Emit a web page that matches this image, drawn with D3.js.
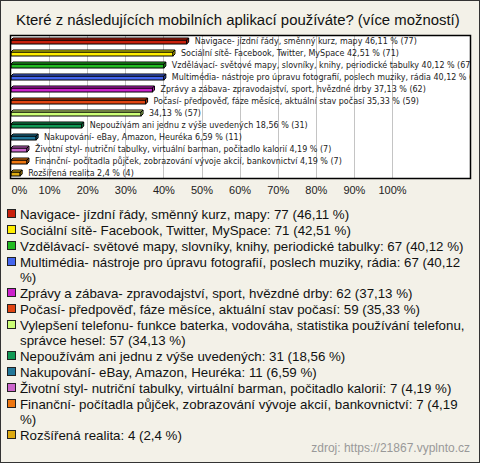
<!DOCTYPE html>
<html>
<head>
<meta charset="utf-8">
<script src="https://cdn.jsdelivr.net/npm/d3@7"></script>
<style>
  html, body { margin: 0; padding: 0; background: #fff; }
  svg { display: block; }
</style>
</head>
<body>
<svg id="chart" width="480" height="463"></svg>
<script>
const title = "Které z následujících mobilních aplikací používáte? (více možností)";
const categories = [
  "Navigace- jízdní řády, směnný kurz, mapy",
  "Sociální sítě- Facebook, Twitter, MySpace",
  "Vzdělávací- světové mapy, slovníky, knihy, periodické tabulky",
  "Multimédia- nástroje pro úpravu fotografií, poslech muziky, rádia",
  "Zprávy a zábava- zpravodajství, sport, hvězdné drby",
  "Počasí- předpověď, fáze měsíce, aktuální stav počasí",
  "Vylepšení telefonu- funkce baterka, vodováha, statistika používání telefonu, správce hesel",
  "Nepoužívám ani jednu z výše uvedených",
  "Nakupování- eBay, Amazon, Heuréka",
  "Životní styl- nutriční tabulky, virtuální barman, počitadlo kalorií",
  "Finanční- počítadla půjček, zobrazování vývoje akcií, bankovnictví",
  "Rozšířená realita"
];
const counts = [77, 71, 67, 67, 62, 59, 57, 31, 11, 7, 7, 4];
const percents = [46.11, 42.51, 40.12, 40.12, 37.13, 35.33, 34.13, 18.56, 6.59, 4.19, 4.19, 2.4];
// bar label names (the long 7th label is omitted on the bar)
const barNames = [
  "Navigace- jízdní řády, směnný kurz, mapy",
  "Sociální sítě- Facebook, Twitter, MySpace",
  "Vzdělávací- světové mapy, slovníky, knihy, periodické tabulky",
  "Multimédia- nástroje pro úpravu fotografií, poslech muziky, rádia",
  "Zprávy a zábava- zpravodajství, sport, hvězdné drby",
  "Počasí- předpověď, fáze měsíce, aktuální stav počasí",
  "",
  "Nepoužívám ani jednu z výše uvedených",
  "Nakupování- eBay, Amazon, Heuréka",
  "Životní styl- nutriční tabulky, virtuální barman, počitadlo kalorií",
  "Finanční- počítadla půjček, zobrazování vývoje akcií, bankovnictví",
  "Rozšířená realita"
];
const colors = ["#c8200c", "#ffee00", "#22bb22", "#4466ee", "#cc22cc", "#e04412",
                "#ccff77", "#119955", "#227799", "#cc66cc", "#ee7711", "#ddaa11"];
const tickValues = [0, 10, 20, 30, 40, 50, 60, 70, 80, 90, 100];
const tickLabels = ["0%", "10%", "20%", "30%", "40%", "50%", "60%", "70%", "80%", "90%", "100%"];
const source = "zdroj: https://21867.vyplnto.cz";

const fmt = v => String(v).replace(".", ",");

const svg = d3.select("#chart");
const W = 480, H = 463;

// background + frame
svg.append("rect").attr("x", 0.5).attr("y", 0.5).attr("width", W - 1).attr("height", H - 1)
  .attr("fill", "#f3f1e8").attr("stroke", "#333").attr("stroke-width", 1);

// title
svg.append("text").attr("x", 16).attr("y", 25)
  .attr("font-family", "Liberation Sans, Arial, sans-serif").attr("font-size", 14.9)
  .attr("fill", "#111").text(title);

// plot area
const plot = { left: 10, top: 35, right: 471, bottom: 179 };
const x = d3.scaleLinear().domain([0, 100]).range([11, 392]);
const y = d3.scaleBand().domain(d3.range(categories.length)).range([plot.top, plot.bottom]);

svg.append("defs").append("clipPath").attr("id", "plotClip").append("rect")
  .attr("x", plot.left).attr("y", plot.top)
  .attr("width", plot.right - plot.left).attr("height", plot.bottom - plot.top);

svg.append("rect").attr("x", plot.left).attr("y", plot.top)
  .attr("width", plot.right - plot.left).attr("height", plot.bottom - plot.top)
  .attr("fill", "#fff");

// gridlines
svg.append("g").selectAll("line").data(tickValues.filter(t => t > 0)).join("line")
  .attr("x1", d => Math.round(x(d)) + 0.5).attr("x2", d => Math.round(x(d)) + 0.5)
  .attr("y1", plot.top).attr("y2", plot.bottom)
  .attr("stroke", "#c4c4c4").attr("stroke-width", 1);

// 3D bars
const dx = 2, dy = 2;
const bars = svg.append("g").attr("clip-path", "url(#plotClip)").selectAll("g").data(percents).join("g");
bars.each(function(p, i) {
  const g = d3.select(this);
  const c = y(i) + y.bandwidth() / 2;
  const x0 = x(0), x1 = x(p);
  const yTop = c - 1, yBot = c + 3;
  const col = colors[i];
  g.append("rect").attr("x", x0).attr("y", yTop).attr("width", x1 - x0).attr("height", yBot - yTop)
    .attr("fill", col).attr("stroke", "#000").attr("stroke-width", 1);
  g.append("path").attr("d", `M${x0},${yTop} L${x0 + dx},${yTop - dy} L${x1 + dx},${yTop - dy} L${x1},${yTop} Z`)
    .attr("fill", d3.color(col).brighter(0.2)).attr("stroke", "#000").attr("stroke-width", 1);
  g.append("path").attr("d", `M${x1},${yTop} L${x1 + dx},${yTop - dy} L${x1 + dx},${yBot - dy} L${x1},${yBot} Z`)
    .attr("fill", d3.color(col).darker(0.4)).attr("stroke", "#000").attr("stroke-width", 1);
  const name = barNames[i];
  const lbl = (name ? name + " " : "") + fmt(p) + " % (" + counts[i] + ")";
  g.append("text").attr("x", x1 + 8).attr("y", c + 2.5)
    .attr("font-family", "Liberation Sans Narrow, Arial Narrow, DejaVu Sans Condensed, sans-serif")
    .attr("font-size", 8.9).attr("fill", "#222").text(lbl);
});

// plot border
svg.append("rect").attr("x", plot.left + 0.5).attr("y", plot.top + 0.5)
  .attr("width", plot.right - plot.left - 1).attr("height", plot.bottom - plot.top - 1)
  .attr("fill", "none").attr("stroke", "#000").attr("stroke-width", 1.5);

// x axis labels
const axis = d3.axisBottom(x).tickValues(tickValues).tickFormat((d, i) => tickLabels[i]).tickSize(0).tickPadding(0);
const ax = svg.append("g").attr("transform", `translate(0,186)`).call(axis);
ax.select(".domain").remove();
ax.selectAll("text").attr("font-family", "Liberation Sans, Arial, sans-serif").attr("font-size", 11)
  .attr("fill", "#222").attr("dy", "0.71em");
ax.selectAll(".tick").filter(d => d === 0).select("text").attr("text-anchor", "start").attr("x", 0);

// legend
const legend = svg.append("g");
const maxW = 450;
let ly = 214;
categories.forEach((name, i) => {
  const full = name + ": " + counts[i] + " (" + fmt(percents[i]) + " %)";
  const words = full.split(" ");
  const t = legend.append("text").attr("font-family", "Liberation Sans, Arial, sans-serif")
    .attr("font-size", 13.3).attr("fill", "#111");
  let lines = [];
  let cur = "";
  const probe = t.append("tspan");
  words.forEach(w => {
    const test = cur ? cur + " " + w : w;
    probe.text(test);
    if (probe.node().getComputedTextLength() > maxW && cur) {
      lines.push(cur);
      cur = w;
    } else cur = test;
  });
  lines.push(cur);
  probe.remove();
  lines.forEach((ln, k) => {
    t.append("tspan").attr("x", 20).attr("y", ly + k * 15 + 4.5).text(ln);
  });
  legend.append("rect").attr("x", 7.5).attr("y", ly - 4.5).attr("width", 8).attr("height", 8)
    .attr("fill", colors[i]).attr("stroke", "#222").attr("stroke-width", 1);
  ly += (lines.length - 1) * 15 + 16;
});

// source
svg.append("text").attr("x", 470).attr("y", 452).attr("text-anchor", "end")
  .attr("font-family", "Liberation Sans, Arial, sans-serif").attr("font-size", 12)
  .attr("fill", "#999").text(source);
</script>
</body>
</html>
